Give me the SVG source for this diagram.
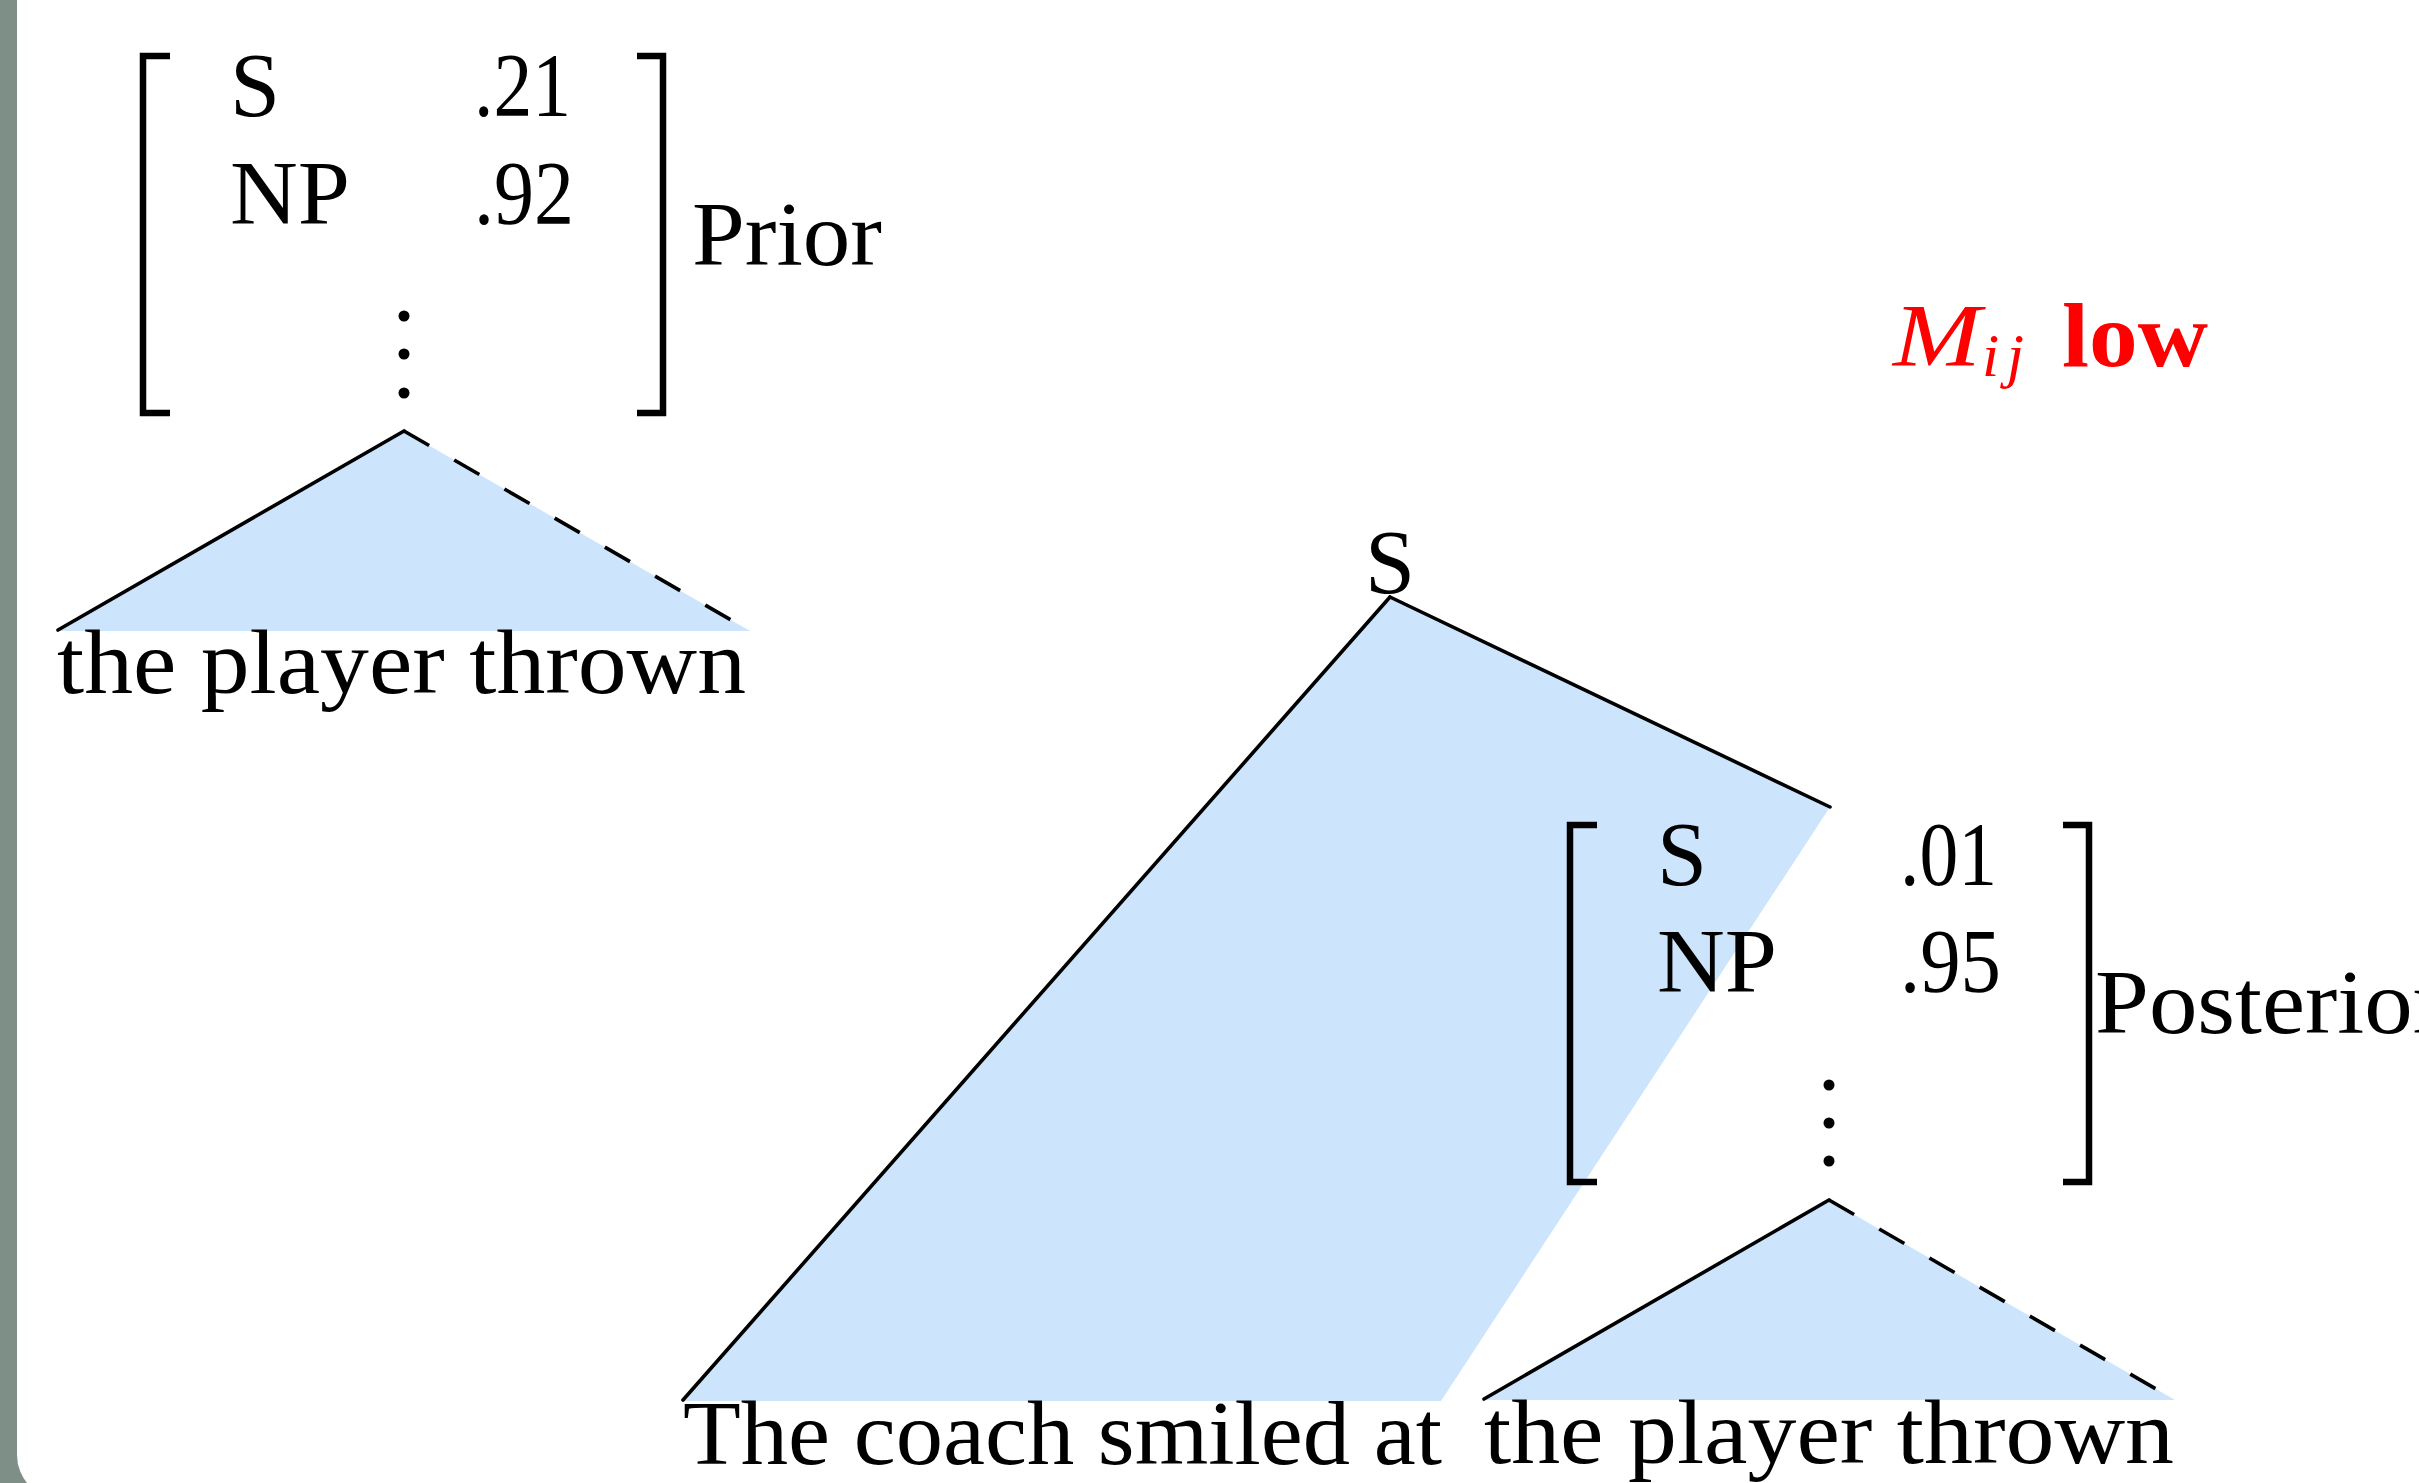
<svg xmlns="http://www.w3.org/2000/svg" width="2419" height="1483" viewBox="0 0 2419 1483">
<style>
.t{font-family:"Liberation Serif","Times New Roman",serif;font-size:90px;fill:#000}
.br{fill:none;stroke:#000;stroke-width:6.5;stroke-linecap:butt;stroke-linejoin:miter}
.ln{fill:none;stroke:#000;stroke-width:3.6;stroke-linecap:round}
.dash{fill:none;stroke:#000;stroke-width:3.6;stroke-dasharray:29 29}
.fill{fill:#cce5fd;stroke:none}
.red{font-family:"Liberation Serif","Times New Roman",serif;fill:#ff0000}
</style>
<rect x="0" y="0" width="2419" height="1483" fill="#7e8f88"/>
<path d="M17,0 H2419 V1499 H61 A44,44 0 0 1 17,1455 Z" fill="#ffffff"/>

<g id="fills">
<polygon class="fill" points="1390,597 1830,807 1441,1401 683,1401"/>
<polygon class="fill" points="404,431 750,631 58,631"/>
<polygon class="fill" points="1829,1200 2175,1400 1484,1400"/>
</g>

<g id="prior-matrix">
<path class="br" d="M170,56 H143 V413 H170"/>
<path class="br" d="M637,56 H663 V413 H637"/>
<text class="t" x="230" y="116">S</text>
<text class="t" x="474" y="116" textLength="97" lengthAdjust="spacingAndGlyphs">.21</text>
<text class="t" x="230" y="224" textLength="120" lengthAdjust="spacingAndGlyphs">NP</text>
<text class="t" x="474" y="224" textLength="100" lengthAdjust="spacingAndGlyphs">.92</text>
<circle cx="404" cy="316" r="5.5"/>
<circle cx="404" cy="354" r="5.5"/>
<circle cx="404" cy="393" r="5.5"/>
<text class="t" x="692" y="265" textLength="190" lengthAdjust="spacingAndGlyphs">Prior</text>
</g>

<g id="prior-tree">
<text class="t" x="57" y="693" textLength="689" lengthAdjust="spacingAndGlyphs">the player thrown</text>
</g>

<g id="root-S">
<text class="t" x="1390" y="593" text-anchor="middle">S</text>
</g>

<g id="coach-words">
<text class="t" x="683" y="1464" textLength="759" lengthAdjust="spacingAndGlyphs">The coach smiled at</text>
</g>

<g id="posterior-matrix">
<path class="br" d="M1597,825 H1570 V1182 H1597"/>
<path class="br" d="M2063,825 H2089 V1182 H2063"/>
<text class="t" x="1657" y="885">S</text>
<text class="t" x="1900" y="885" textLength="97" lengthAdjust="spacingAndGlyphs">.01</text>
<text class="t" x="1657" y="992" textLength="120" lengthAdjust="spacingAndGlyphs">NP</text>
<text class="t" x="1900" y="992" textLength="101" lengthAdjust="spacingAndGlyphs">.95</text>
<circle cx="1829" cy="1085" r="5.5"/>
<circle cx="1829" cy="1123" r="5.5"/>
<circle cx="1829" cy="1161" r="5.5"/>
<text class="t" x="2095" y="1033" textLength="350" lengthAdjust="spacingAndGlyphs">Posterior</text>
</g>

<g id="posterior-tree">
<text class="t" x="1484" y="1463" textLength="690" lengthAdjust="spacingAndGlyphs">the player thrown</text>
</g>

<g id="label-mij">
<text class="red" x="1893" y="365" font-size="88" font-style="italic" textLength="88" lengthAdjust="spacingAndGlyphs">M</text>
<text class="red" x="1982" y="376" font-size="62" font-style="italic" textLength="42" lengthAdjust="spacing">ij</text>
<text class="red" x="2062" y="366" font-size="90" font-weight="bold" textLength="146" lengthAdjust="spacingAndGlyphs">low</text>
</g>

<g id="connectors">
<line class="ln" x1="404" y1="431" x2="58" y2="630"/>
<line class="dash" x1="404" y1="431" x2="731" y2="620"/>
<line class="ln" x1="1390" y1="597" x2="683" y2="1400"/>
<line class="ln" x1="1390" y1="597" x2="1830" y2="807"/>
<line class="ln" x1="1829" y1="1200" x2="1484" y2="1399"/>
<line class="dash" x1="1829" y1="1200" x2="2156" y2="1389"/>
</g>
</svg>
